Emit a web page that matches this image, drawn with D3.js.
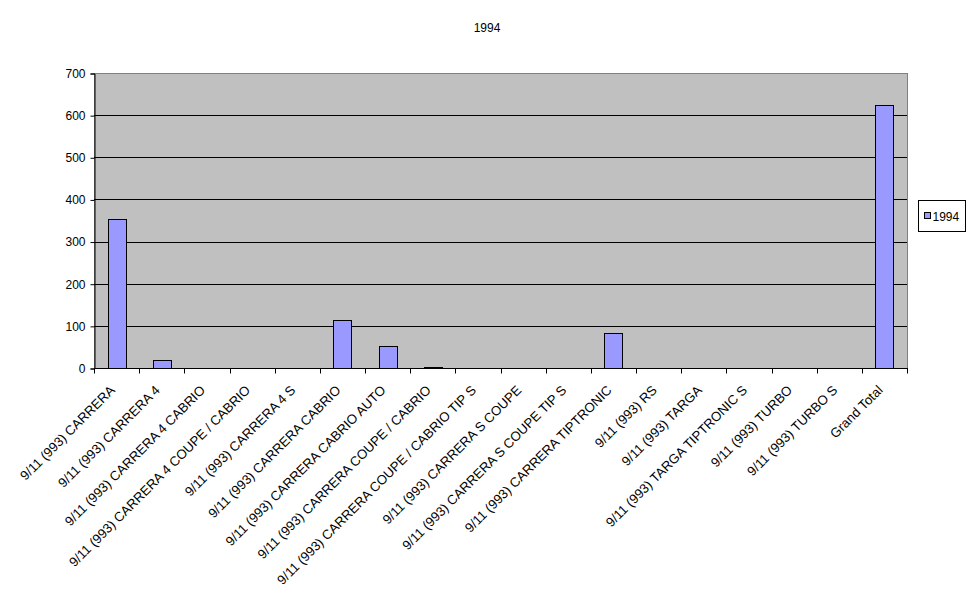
<!DOCTYPE html>
<html>
<head>
<meta charset="utf-8">
<script src="https://cdn.jsdelivr.net/npm/d3@7"></script>
<style>
  body { margin: 0; background: #fff; }
  text { font-family: Arial, "Liberation Sans", sans-serif; }
</style>
</head>
<body>
<div id="chart"></div>
<script>
// categories + values
var models = ["9/11 (993) CARRERA", "9/11 (993) CARRERA 4", "9/11 (993) CARRERA 4 CABRIO",
  "9/11 (993) CARRERA 4 COUPE / CABRIO", "9/11 (993) CARRERA 4 S", "9/11 (993) CARRERA CABRIO",
  "9/11 (993) CARRERA CABRIO AUTO", "9/11 (993) CARRERA COUPE / CABRIO",
  "9/11 (993) CARRERA COUPE / CABRIO TIP S", "9/11 (993) CARRERA S COUPE",
  "9/11 (993) CARRERA S COUPE TIP S", "9/11 (993) CARRERA TIPTRONIC", "9/11 (993) RS",
  "9/11 (993) TARGA", "9/11 (993) TARGA TIPTRONIC S", "9/11 (993) TURBO", "9/11 (993) TURBO S",
  "Grand Total"];
var counts1994 = [354, 19, 0, 0, 0, 114, 52, 2, 0, 0, 0, 83, 0, 0, 0, 0, 0, 624];
var yTicks = [0, 100, 200, 300, 400, 500, 600, 700];
var seriesName = "1994";

var width = 975, height = 599;
// plot box (window.top is reserved, so own names)
var plotLeft = 94, plotTop = 73, plotRight = 907, plotBottom = 368;

var svg = d3.select("#chart").append("svg")
  .attr("width", width)
  .attr("height", height);

//title
svg.append("text")
  .attr("x", 487).attr("y", 32)
  .attr("text-anchor", "middle")
  .style("font-size", "12px")
  .text(seriesName);

var x = d3.scaleBand().domain(models).range([plotLeft, plotRight]).paddingInner(0).paddingOuter(0);
var y = d3.scaleLinear().domain([0, 700]).range([plotBottom, plotTop]);

//plot area
svg.append("rect")
  .attr("x", plotLeft + 0.5).attr("y", plotTop + 0.5)
  .attr("width", plotRight - plotLeft).attr("height", plotBottom - plotTop)
  .attr("fill", "#C0C0C0")
  .attr("stroke", "#808080")
  .attr("stroke-width", 1);

//gridlines
svg.selectAll(null)
  .data(yTicks.filter(function(d){ return d > 0 && d < 700; }))
  .enter()
  .append("line")
  .attr("x1", plotLeft).attr("x2", plotRight)
  .attr("y1", function(d){ return Math.round(y(d)) + 0.5; })
  .attr("y2", function(d){ return Math.round(y(d)) + 0.5; })
  .attr("stroke", "#000")
  .attr("stroke-width", 1);

//bars (zero values draw nothing)
var barData = models.map(function(m, i){ return {model: m, value: counts1994[i]}; })
  .filter(function(d){ return d.value > 0; });
var bw = x.bandwidth() / 2.5;
svg.selectAll(null)
  .data(barData)
  .enter()
  .append("rect")
  .attr("x", function(d){ return Math.round(x(d.model) + (x.bandwidth() - bw) / 2) + 0.5; })
  .attr("y", function(d){ return Math.round(y(d.value)) + 0.5; })
  .attr("width", Math.round(bw))
  .attr("height", function(d){ return Math.max(0, Math.round(y(0)) - Math.round(y(d.value))); })
  .attr("fill", "#9999FF")
  .attr("stroke", "#000")
  .attr("stroke-width", 1);

//y axis
var yAxis = svg.append("g")
  .attr("transform", "translate(" + (plotLeft + 0.5) + ",0.5)")
  .call(d3.axisLeft(y).tickValues(yTicks).tickSize(4).tickPadding(5));
yAxis.select(".domain").attr("stroke", "#000");
yAxis.selectAll("text").style("font-size", "12px").attr("fill", "#000");

//x axis with ticks on the band edges
var xAxis = svg.append("g")
  .attr("transform", "translate(0," + (plotBottom + 0.5) + ")");
xAxis.append("line")
  .attr("x1", plotLeft).attr("x2", plotRight + 1)
  .attr("stroke", "#000");
xAxis.selectAll(null)
  .data(models.concat(["end"]))
  .enter()
  .append("line")
  .attr("x1", function(d, i){ return Math.round(plotLeft + i * x.step()) + 0.5; })
  .attr("x2", function(d, i){ return Math.round(plotLeft + i * x.step()) + 0.5; })
  .attr("y1", 0).attr("y2", 5)
  .attr("stroke", "#000");
xAxis.selectAll(null)
  .data(models)
  .enter()
  .append("text")
  .attr("transform", function(d){
    return "translate(" + (x(d) + x.bandwidth() / 2 - 7.5) + ",16) rotate(-45)";
  })
  .attr("text-anchor", "end")
  .attr("dy", "0.7em")
  .style("font-size", "13.2px")
  .text(function(d){ return d; });

//legend
var legend = svg.append("g").attr("transform", "translate(918.5,200.5)");
legend.append("rect")
  .attr("width", 47).attr("height", 31)
  .attr("fill", "#fff").attr("stroke", "#000");
legend.append("rect")
  .attr("x", 6).attr("y", 12)
  .attr("width", 6).attr("height", 6)
  .attr("fill", "#9999FF").attr("stroke", "#000");
legend.append("text")
  .attr("x", 14).attr("y", 20)
  .style("font-size", "12px")
  .text(seriesName);
</script>
</body>
</html>
